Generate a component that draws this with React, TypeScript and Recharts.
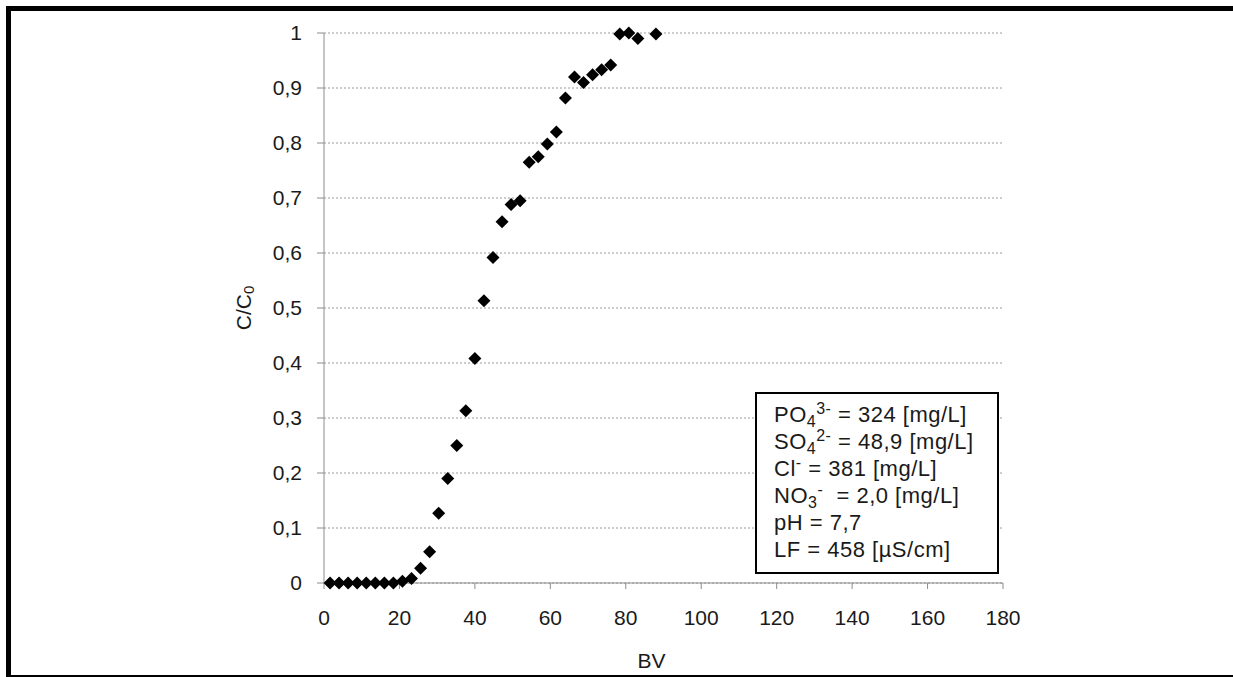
import React from 'react';
import { ScatterChart, Scatter, XAxis, YAxis, CartesianGrid } from 'recharts';

// bed volumes (BV) and breakthrough ratio C/C0
const bedVolumes = [
  1.6, 4.0, 6.4, 8.8, 11.2, 13.6, 16.0, 18.4, 20.8, 23.2, 25.6, 28.0,
  30.4, 32.8, 35.2, 37.6, 40.0, 42.4, 44.8, 47.2, 49.6, 52.0, 54.4, 56.8,
  59.2, 61.6, 64.0, 66.4, 68.8, 71.2, 73.6, 76.0, 78.4, 80.8, 83.2, 88.0,
];
const concentrationRatio = [
  0, 0, 0, 0, 0, 0, 0, 0, 0.003, 0.008, 0.027, 0.057,
  0.127, 0.19, 0.25, 0.313, 0.408, 0.513, 0.592, 0.657, 0.688, 0.695, 0.765, 0.775,
  0.798, 0.82, 0.882, 0.92, 0.91, 0.924, 0.933, 0.942, 0.998, 1.0, 0.99, 0.998,
];

const xTicks = [0, 20, 40, 60, 80, 100, 120, 140, 160, 180];
const yTicks = [0, 0.1, 0.2, 0.3, 0.4, 0.5, 0.6, 0.7, 0.8, 0.9, 1];

// feed water composition shown in the box
const boxLabels = ['PO', 'SO', 'Cl', 'NO', 'pH', 'LF'];
const boxSubs = ['4', '4', '', '3', '', ''];
const boxSups = ['3-', '2-', '-', '-', '', ''];
const boxValues = [' = 324 [mg/L]', ' = 48,9 [mg/L]', ' = 381 [mg/L]', '  = 2,0 [mg/L]', ' = 7,7', ' = 458 [µS/cm]'];

const data = bedVolumes.map((bv, i) => ({ bv, c: concentrationRatio[i] }));

const FONT = '"Liberation Sans", Arial, sans-serif';
const TEXT = '#1a1a1a';
const AXIS = '#8c8c8c';

const Diamond = (props: any) => {
  const { cx, cy } = props;
  const r = 6.5;
  return (
    <path
      d={`M${cx},${cy - r}L${cx + r},${cy}L${cx},${cy + r}L${cx - r},${cy}Z`}
      fill="#000"
    />
  );
};

const fmt = (v: number) => String(Math.round(v * 10) / 10).replace('.', ',');

const YLabel = (props: any) => {
  const { viewBox } = props;
  const x = viewBox.x + viewBox.width - 81;
  const y = viewBox.y + viewBox.height / 2;
  return (
    <text
      x={x}
      y={y}
      transform={`rotate(-90, ${x}, ${y})`}
      textAnchor="middle"
      dominantBaseline="central"
      fontSize={21}
      fontFamily={FONT}
      fill={TEXT}
    >
      C/C<tspan fontSize={15} dy={5}>0</tspan>
    </text>
  );
};

const XLabel = (props: any) => {
  const { viewBox } = props;
  return (
    <text
      x={viewBox.x + viewBox.width / 2 - 12}
      y={viewBox.y + 85}
      textAnchor="middle"
      fontSize={21}
      fontFamily={FONT}
      fill={TEXT}
    >
      BV
    </text>
  );
};

export default function App() {
  return (
    <div style={{ position: 'absolute', left: 0, top: 0, width: 1233, height: 677, background: '#fff', overflow: 'hidden' }}>
      {/* frame */}
      <div style={{ position: 'absolute', left: 6, top: 6, width: 1227, height: 5, background: '#000' }} />
      <div style={{ position: 'absolute', left: 6, top: 6, width: 5, height: 671, background: '#000' }} />
      <div style={{ position: 'absolute', left: 6, top: 675, width: 1227, height: 2, background: '#000' }} />

      <div style={{ position: 'absolute', left: 0, top: 0 }}>
        <ScatterChart width={1233} height={677} margin={{ top: 33, right: 230, bottom: 0, left: 260 }}>
          <CartesianGrid vertical={false} stroke="#9a9a9a" strokeDasharray="2 2" />
          <XAxis
            type="number"
            dataKey="bv"
            domain={[0, 180]}
            ticks={xTicks}
            interval={0}
            stroke={AXIS}
            tickSize={6}
            tickMargin={21}
            tick={{ fill: TEXT, fontSize: 21, fontFamily: FONT }}
            height={94}
            label={<XLabel />}
          />
          <YAxis
            type="number"
            dataKey="c"
            domain={[0, 1]}
            ticks={yTicks}
            interval={0}
            width={64}
            stroke={AXIS}
            tickSize={7}
            tickMargin={15}
            tickFormatter={fmt}
            tick={{ fill: TEXT, fontSize: 21, fontFamily: FONT }}
            label={<YLabel />}
          />
          <Scatter data={data} shape={<Diamond />} fill="#000" isAnimationActive={false} />
        </ScatterChart>
      </div>

      <div
        style={{
          position: 'absolute',
          left: 755,
          top: 392,
          width: 244,
          height: 182,
          border: '2px solid #000',
          background: '#fff',
          fontFamily: FONT,
          fontSize: 22,
          letterSpacing: 0.5,
          color: TEXT,
          lineHeight: '27px',
          padding: '7px 0 0 17px',
          boxSizing: 'border-box',
        }}
      >
        {boxLabels.map((lab, i) => (
          <div key={lab} style={{ whiteSpace: 'pre' }}>
            {lab}
            {boxSubs[i] && <sub style={{ fontSize: 16, lineHeight: 0 }}>{boxSubs[i]}</sub>}
            {boxSups[i] && <sup style={{ fontSize: 16, lineHeight: 0 }}>{boxSups[i]}</sup>}
            {boxValues[i]}
          </div>
        ))}
      </div>
    </div>
  );
}
